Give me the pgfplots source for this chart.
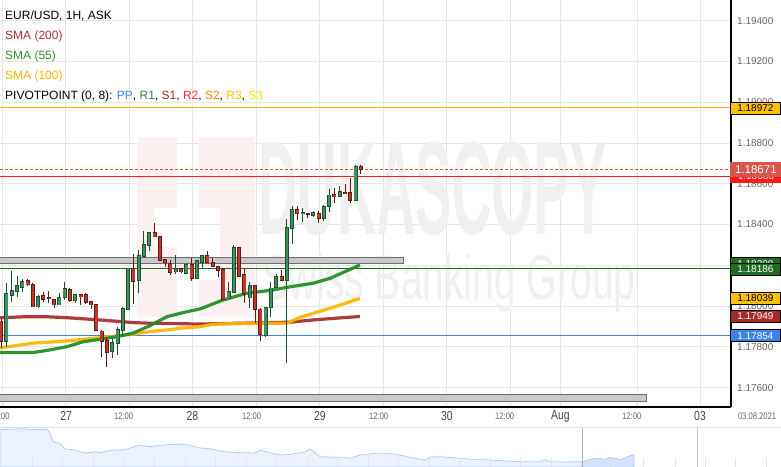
\documentclass[border=0pt]{standalone}
\usepackage{fontspec}
\setmainfont{Liberation Sans}
\newfontfamily\narrowfont[FakeStretch=0.8]{Liberation Sans}
\usepackage{pgfplots}
\usepackage{pgfplotstable}
\pgfplotsset{compat=1.18}

\definecolor{gridgray}{HTML}{E6E6E6}
\definecolor{ticktext}{HTML}{666666}
\definecolor{daytext}{HTML}{444444}
\definecolor{hourtext}{HTML}{666666}
\definecolor{gfill}{HTML}{3F8F5F}
\definecolor{gline}{HTML}{1D4F30}
\definecolor{rfill}{HTML}{C0392B}
\definecolor{rline}{HTML}{5E1A12}
\definecolor{smaA}{HTML}{A82A2A}
\definecolor{smaB}{HTML}{1E8C1E}
\definecolor{smaC}{HTML}{FFB400}
\definecolor{ppcol}{HTML}{3F80E0}
\definecolor{rAcol}{HTML}{1F6B1F}
\definecolor{rBcol}{HTML}{FF1A1A}
\definecolor{rCcol}{HTML}{F2B600}
\definecolor{currcol}{HTML}{E0503C}
\definecolor{bandfill}{HTML}{C9C9C9}
\definecolor{banddraw}{HTML}{6E6E6E}
\definecolor{navfill}{HTML}{EBF2FD}
\definecolor{navhi}{HTML}{D5E3FA}
\definecolor{navline}{HTML}{B4CDF3}
\definecolor{wmgray}{HTML}{F0F0F0}
\definecolor{logopink}{HTML}{FDF0F0}
\definecolor{legA}{HTML}{B22C2C}
\definecolor{legB}{HTML}{2E8B2E}
\definecolor{legC}{HTML}{FFB300}
\definecolor{legPP}{HTML}{4285F4}
\definecolor{legRA}{HTML}{3C7A3C}
\definecolor{legSA}{HTML}{B22222}
\definecolor{legRB}{HTML}{FF2A2A}
\definecolor{legSB}{HTML}{FF8C00}
\definecolor{legRC}{HTML}{FFBF00}
\definecolor{legSC}{HTML}{FFE600}
\definecolor{boxyellow}{HTML}{FEC000}
\definecolor{boxcurr}{HTML}{D9554A}
\definecolor{boxgreen}{HTML}{1F6B1F}
\definecolor{boxdred}{HTML}{A52A2A}
\definecolor{boxblue}{HTML}{3D82E8}

\newcommand{\legfont}{\fontsize{12bp}{14bp}\selectfont}
\newcommand{\dayfont}{\narrowfont\fontsize{13bp}{14bp}\selectfont\color{daytext}}
\newcommand{\hourfont}{\narrowfont\fontsize{9.5bp}{11bp}\selectfont\color{hourtext}}
\newcommand{\boxfont}{\fontsize{10bp}{12bp}\selectfont}

\pgfplotstableread{
x O H L C
-11.2 1.17823 1.18112 1.17798 1.18063
-10.2 1.18051 1.18172 1.18022 1.18079
-9.2 1.18069 1.18148 1.18046 1.18102
-8.2 1.18092 1.18133 1.18068 1.18122
-5.2 1.17994 1.18053 1.17992 1.18051
-1.2 1.18004 1.18063 1.18004 1.18046
-0.2 1.18041 1.18118 1.18030 1.18089
1.8 1.18027 1.18058 1.18017 1.18058
8.8 1.17774 1.17837 1.17744 1.17823
9.8 1.17813 1.17898 1.17760 1.17888
10.8 1.17879 1.17997 1.17858 1.17992
11.8 1.17984 1.18190 1.17984 1.18190
13.8 1.18125 1.18275 1.18063 1.18249
14.8 1.18242 1.18368 1.18242 1.18305
15.8 1.18296 1.18362 1.18272 1.18362
20.8 1.18166 1.18249 1.18159 1.18186
22.8 1.18159 1.18213 1.18159 1.18207
24.8 1.18135 1.18226 1.18135 1.18226
25.8 1.18212 1.18249 1.18181 1.18249
30.8 1.18033 1.18118 1.18033 1.18074
31.8 1.18066 1.18300 1.18066 1.18289
34.8 1.18038 1.18120 1.17989 1.18102
37.8 1.17855 1.17997 1.17850 1.17997
38.8 1.17994 1.18120 1.17948 1.18092
39.8 1.18090 1.18161 1.18090 1.18148
41.8 1.18125 1.18426 1.17722 1.18387
42.8 1.18380 1.18491 1.18305 1.18475
44.8 1.18450 1.18483 1.18414 1.18462
46.8 1.18443 1.18468 1.18436 1.18462
48.8 1.18429 1.18494 1.18419 1.18494
49.8 1.18488 1.18573 1.18463 1.18548
51.8 1.18537 1.18589 1.18537 1.18565
54.8 1.18517 1.18696 1.18517 1.18687
}\greencandles

\pgfplotstableread{
x O H L C
-12.2 1.17929 1.17935 1.17795 1.17823
-7.2 1.18127 1.18132 1.18100 1.18102
-6.2 1.18109 1.18115 1.17994 1.17994
-4.2 1.18053 1.18069 1.18022 1.18033
-3.2 1.18045 1.18074 1.18017 1.18036
-2.2 1.18036 1.18036 1.17992 1.18004
0.8 1.18084 1.18090 1.18022 1.18027
2.8 1.18058 1.18058 1.18006 1.18046
3.8 1.18058 1.18063 1.18012 1.18017
4.8 1.18024 1.18024 1.17987 1.18004
5.8 1.18009 1.18009 1.17877 1.17877
6.8 1.17881 1.17881 1.17752 1.17824
7.8 1.17834 1.17847 1.17700 1.17772
12.8 1.18186 1.18259 1.18014 1.18120
16.8 1.18362 1.18406 1.18338 1.18338
17.8 1.18343 1.18343 1.18223 1.18223
18.8 1.18230 1.18230 1.18190 1.18210
19.8 1.18213 1.18226 1.18154 1.18166
21.8 1.18186 1.18186 1.18162 1.18166
23.8 1.18207 1.18235 1.18125 1.18133
26.8 1.18249 1.18270 1.18212 1.18212
27.8 1.18215 1.18235 1.18195 1.18195
28.8 1.18195 1.18195 1.18144 1.18174
29.8 1.18181 1.18181 1.18033 1.18033
32.8 1.18291 1.18291 1.18143 1.18143
33.8 1.18156 1.18186 1.18014 1.18061
35.8 1.18102 1.18102 1.17916 1.17984
36.8 1.17989 1.17989 1.17830 1.17862
40.8 1.18148 1.18177 1.18125 1.18125
43.8 1.18475 1.18491 1.18422 1.18450
45.8 1.18455 1.18455 1.18431 1.18447
47.8 1.18458 1.18468 1.18409 1.18431
50.8 1.18548 1.18578 1.18507 1.18537
52.8 1.18561 1.18599 1.18548 1.18551
53.8 1.18560 1.18627 1.18504 1.18517
55.8 1.18687 1.18694 1.18647 1.18671
}\redcandles

\begin{document}
\begin{tikzpicture}
\begin{axis}[
  set layers,
  name=main,
  at={(0bp,60bp)}, anchor=south west,
  width=731bp, height=407bp, scale only axis,
  xmin=-12.42, xmax=125.77,
  ymin=1.17505, ymax=1.195015,
  axis x line*=bottom, axis y line*=right,
  axis line style={black, line width=1.2bp},
  clip=false,
  xtick={-12,0,12,24,36,48,60,72,84,93.44,108,120},
  xticklabels={},
  xmajorgrids, ymajorgrids,
  grid style={color=gridgray, line width=0.9bp},
  major tick length=0pt,
  tick style={draw=none},
  scaled y ticks=false,
  ytick={1.176,1.178,1.180,1.182,1.184,1.186,1.188,1.190,1.192,1.194},
  yticklabel style={anchor=west, inner sep=0pt, xshift=6bp,
    font=\fontsize{10bp}{12bp}\selectfont, color=ticktext,
    /pgf/number format/fixed, /pgf/number format/fixed zerofill,
    /pgf/number format/precision=5, /pgf/number format/assume math mode=true},
  extra x ticks={-12.4,0.1,10.95,23.93,35.14,48.05,59.17,72.08,82.99,93.53,107.01,119.91},
  extra x tick labels={{\hourfont 12:00},{\dayfont 27},{\hourfont 12:00},{\dayfont 28},{\hourfont 12:00},{\dayfont 29},{\hourfont 12:00},{\dayfont 30},{\hourfont 12:00},{\dayfont Aug},{\hourfont 12:00},{\dayfont 03}},
  extra x tick style={grid=none, xticklabel style={anchor=center, inner sep=0pt, yshift=-9bp}},
]
% watermark
\fill[logopink, even odd rule] (axis cs:13.48,1.18830) rectangle (axis cs:21.04,1.17947)
   (axis cs:16.69,1.18481) rectangle (axis cs:21.04,1.18290);
\fill[logopink, even odd rule] (axis cs:25.20,1.18830) rectangle (axis cs:35.78,1.17947)
   (axis cs:25.20,1.18481) rectangle (axis cs:29.17,1.18128);
\node[anchor=base west, inner sep=0pt, text=wmgray] at (axis cs:36.37,1.18349)
   {\scalebox{0.41}[1]{\fontsize{133bp}{133bp}\selectfont\bfseries DUKASCOPY}};
\node[anchor=base west, inner sep=0pt, text=wmgray] at (axis cs:37.1,1.18030)
   {\scalebox{0.62}[1]{\fontsize{63bp}{63bp}\selectfont Swiss Banking Group}};

% gray zones
\addplot[fill=bandfill, draw=banddraw, line width=0.9bp, forget plot]
  coordinates {(-13,1.18210) (63.76,1.18210) (63.76,1.18241) (-13,1.18241)} -- cycle;
\addplot[fill=bandfill, draw=banddraw, line width=0.9bp, forget plot]
  coordinates {(-13,1.17530) (109.7,1.17530) (109.7,1.17566) (-13,1.17566)} -- cycle;

% pivot lines and current price
\addplot[rCcol, line width=1bp, forget plot] coordinates {(-12.42,1.18972) (125.77,1.18972)};
\addplot[rBcol, line width=1bp, forget plot] coordinates {(-12.42,1.18636) (125.77,1.18636)};
\addplot[currcol, line width=0.9bp, dash pattern=on 3bp off 2bp, forget plot] coordinates {(-12.42,1.18671) (125.77,1.18671)};
\addplot[rAcol, line width=1bp, forget plot] coordinates {(-12.42,1.18186) (125.77,1.18186)};
\addplot[ppcol, line width=1bp, forget plot] coordinates {(-12.42,1.17854) (125.77,1.17854)};

% SMA lines
\addplot[smaA, line width=3.2bp, opacity=0.92, forget plot] coordinates {
(-12.42,1.17943) (-7.32,1.17948) (-3.91,1.17948) (0.25,1.17943) (6.48,1.17932) (12.72,1.17919) (15.94,1.17916) (25.39,1.17912) (32.95,1.17916) (38.62,1.17919) (42.40,1.17921) (46.75,1.17932) (51.85,1.17942) (55.63,1.17949)};
\addplot[smaC, line width=3.2bp, opacity=0.92, forget plot] coordinates {
(-12.42,1.17795) (-6.18,1.17818) (0.25,1.17829) (6.48,1.17845) (12.72,1.17862) (15.94,1.17875) (19.15,1.17883) (21.61,1.17891) (25.39,1.17899) (27.85,1.17911) (34.27,1.17916) (41.83,1.17916) (44.29,1.17945) (49.96,1.17989) (55.63,1.18038)};
\addplot[smaB, line width=3.2bp, opacity=0.92, forget plot] coordinates {
(-12.42,1.17772) (-6.18,1.17772) (-2.97,1.17785) (0.25,1.17801) (3.27,1.17825) (6.48,1.17837) (9.70,1.17850) (12.72,1.17867) (15.94,1.17904) (19.15,1.17948) (22.17,1.17968) (25.39,1.17986) (29.74,1.18030) (34.27,1.18063) (39.19,1.18079) (41.83,1.18092) (46.75,1.18112) (49.96,1.18136) (55.63,1.18202)};

% candles: wicks
\addplot[draw=none, mark=none, forget plot, error bars/.cd, y dir=both, y explicit, error mark=none,
  error bar style={draw=gline, line width=1bp}]
  table[x=x, y expr={(\thisrow{H}+\thisrow{L})/2}, y error expr={(\thisrow{H}-\thisrow{L})/2}] {\greencandles};
\addplot[draw=none, mark=none, forget plot, error bars/.cd, y dir=both, y explicit, error mark=none,
  error bar style={draw=rline, line width=1bp}]
  table[x=x, y expr={(\thisrow{H}+\thisrow{L})/2}, y error expr={(\thisrow{H}-\thisrow{L})/2}] {\redcandles};
% bodies: outline
\addplot[draw=none, mark=none, forget plot, error bars/.cd, y dir=both, y explicit, error mark=none,
  error bar style={draw=gline, line width=4bp}]
  table[x=x, y expr={(\thisrow{O}+\thisrow{C})/2}, y error expr={max(abs(\thisrow{C}-\thisrow{O})/2,0.000025)}] {\greencandles};
\addplot[draw=none, mark=none, forget plot, error bars/.cd, y dir=both, y explicit, error mark=none,
  error bar style={draw=rline, line width=4bp}]
  table[x=x, y expr={(\thisrow{O}+\thisrow{C})/2}, y error expr={max(abs(\thisrow{C}-\thisrow{O})/2,0.000025)}] {\redcandles};
% bodies: fill
\addplot[draw=none, mark=none, forget plot, error bars/.cd, y dir=both, y explicit, error mark=none,
  error bar style={draw=gfill, line width=2.4bp}]
  table[x=x, y expr={(\thisrow{O}+\thisrow{C})/2}, y error expr={max(abs(\thisrow{C}-\thisrow{O})/2-0.00004,0)}] {\greencandles};
\addplot[draw=none, mark=none, forget plot, error bars/.cd, y dir=both, y explicit, error mark=none,
  error bar style={draw=rfill, line width=2.4bp}]
  table[x=x, y expr={(\thisrow{O}+\thisrow{C})/2}, y error expr={max(abs(\thisrow{C}-\thisrow{O})/2-0.00004,0)}] {\redcandles};

% legend texts
\node[anchor=base west, inner sep=0pt, font=\legfont, text=black] at (axis description cs:0.00684,0.95209) {EUR/USD, 1H, ASK};
\node[anchor=base west, inner sep=0pt, font=\legfont, text=legA] at (axis description cs:0.00684,0.90172) {SMA (200)};
\node[anchor=base west, inner sep=0pt, font=\legfont, text=legB] at (axis description cs:0.00684,0.85258) {SMA (55)};
\node[anchor=base west, inner sep=0pt, font=\legfont, text=legC] at (axis description cs:0.00684,0.80344) {SMA (100)};
\node[anchor=base west, inner sep=0pt, font=\legfont, text=black] at (axis description cs:0.00684,0.75430)
  {PIVOTPOINT (0, 8): \textcolor{legPP}{PP}, \textcolor{legRA}{R1}, \textcolor{legSA}{S1}, \textcolor{legRB}{R2}, \textcolor{legSB}{S2}, \textcolor{legRC}{R3}, \textcolor{legSC}{S3}};

% price boxes
\node[anchor=west, fill=boxyellow, draw=black, line width=0.8bp, minimum width=50bp, minimum height=12bp, inner sep=0pt, font=\boxfont, text=black] at (axis cs:125.58,1.18972) {1.18972};
\node[anchor=west, fill=rBcol, draw=rBcol, line width=0.8bp, minimum width=51bp, minimum height=12bp, inner sep=0pt, font=\boxfont, text=white] at (axis cs:125.58,1.18636) {1.18636};
\node[anchor=west, fill=boxcurr, draw=boxcurr, line width=0.8bp, minimum width=51bp, minimum height=14bp, inner sep=0pt, font=\fontsize{11.5bp}{13bp}\selectfont, text=white] at (axis cs:125.58,1.18671) {1.18671};
\node[anchor=west, fill=boxgreen, draw=black, line width=0.8bp, minimum width=50bp, minimum height=12bp, inner sep=0pt, font=\boxfont, text=white] at (axis cs:125.58,1.18208) {1.18208};
\node[anchor=west, fill=boxgreen, draw=black, line width=0.8bp, minimum width=50bp, minimum height=12bp, inner sep=0pt, font=\boxfont, text=white] at (axis cs:125.58,1.18180) {1.18186};
\node[anchor=west, fill=boxyellow, draw=black, line width=0.8bp, minimum width=50bp, minimum height=12bp, inner sep=0pt, font=\boxfont, text=black] at (axis cs:125.58,1.18039) {1.18039};
\node[anchor=west, fill=boxdred, draw=black, line width=0.8bp, minimum width=50bp, minimum height=12bp, inner sep=0pt, font=\boxfont, text=white] at (axis cs:125.58,1.17949) {1.17949};
\node[anchor=west, fill=boxblue, draw=black, line width=0.8bp, minimum width=50bp, minimum height=12bp, inner sep=0pt, font=\boxfont, text=white] at (axis cs:125.58,1.17854) {1.17854};

\node[anchor=center, inner sep=0pt, font=\narrowfont\fontsize{9.5bp}{11bp}\selectfont, text=hourtext] at (axis description cs:1.0356,-0.0221) {03.08.2021};
\end{axis}

% navigator
\begin{axis}[
  at={(0bp,0bp)}, anchor=south west,
  width=781bp, height=40bp, scale only axis,
  xmin=0, xmax=781, ymin=0, ymax=40,
  hide axis, clip=true,
]
\addplot[fill=navfill, draw=navline, line width=0.8bp] coordinates {(0,37.3) (15,38) (25,38.3) (30,37.3) (47,37.7) (50,34) (53,25.3) (60,23.7) (65,18) (75,17) (85,14) (95,15.3) (100,14.3) (110,16.7) (125,17.3) (140,22) (150,20.3) (160,21.7) (180,23) (190,21.7) (200,19) (210,18.3) (225,15.3) (240,14.3) (255,14) (260,17) (270,14.3) (280,12) (290,12.7) (305,15) (310,18) (320,10.3) (335,9.7) (345,9.7) (350,8.7) (360,12) (375,13.7) (390,13.7) (400,12) (410,9.7) (425,7) (430,10) (440,10.3) (460,8.7) (475,7.7) (490,7) (500,6.3) (520,5.3) (540,5.3) (545,7.3) (550,5.3) (565,5) (582,5.3)} \closedcycle;
\addplot[fill=navhi, draw=navline, line width=0.8bp] coordinates {(582,5.3) (588,7) (595,8.7) (605,7.7) (610,9.7) (620,7.3) (626,9.7) (634,12.7)} \closedcycle;
\addplot[ycomb, draw=gray!22, line width=0.8bp, mark=none] coordinates {(32.4,9) (62.3,9) (93.2,9) (123.6,9) (154.5,9) (185.3,9) (215.7,9) (246.6,9) (276.5,9) (307.4,9) (337.8,9) (368.7,9) (398.6,9) (429.5,9) (459.9,9) (490.8,9) (520.7,9) (551.6,9) (612.9,9) (643.8,9) (675.1,9) (705,9) (735.4,9) (766,9)};
\addplot[draw=gray!60, line width=1bp, mark=none] coordinates {(582,0) (582,40)};
\addplot[draw=gray!45, line width=1bp, mark=none] coordinates {(697,0) (697,40)};
\addplot[draw=gray!25, line width=1bp, mark=none] coordinates {(0,40) (781,40)};
\end{axis}
\pgfresetboundingbox
\path[use as bounding box] (0,0) rectangle (781bp,467bp);
\end{tikzpicture}
\end{document}
